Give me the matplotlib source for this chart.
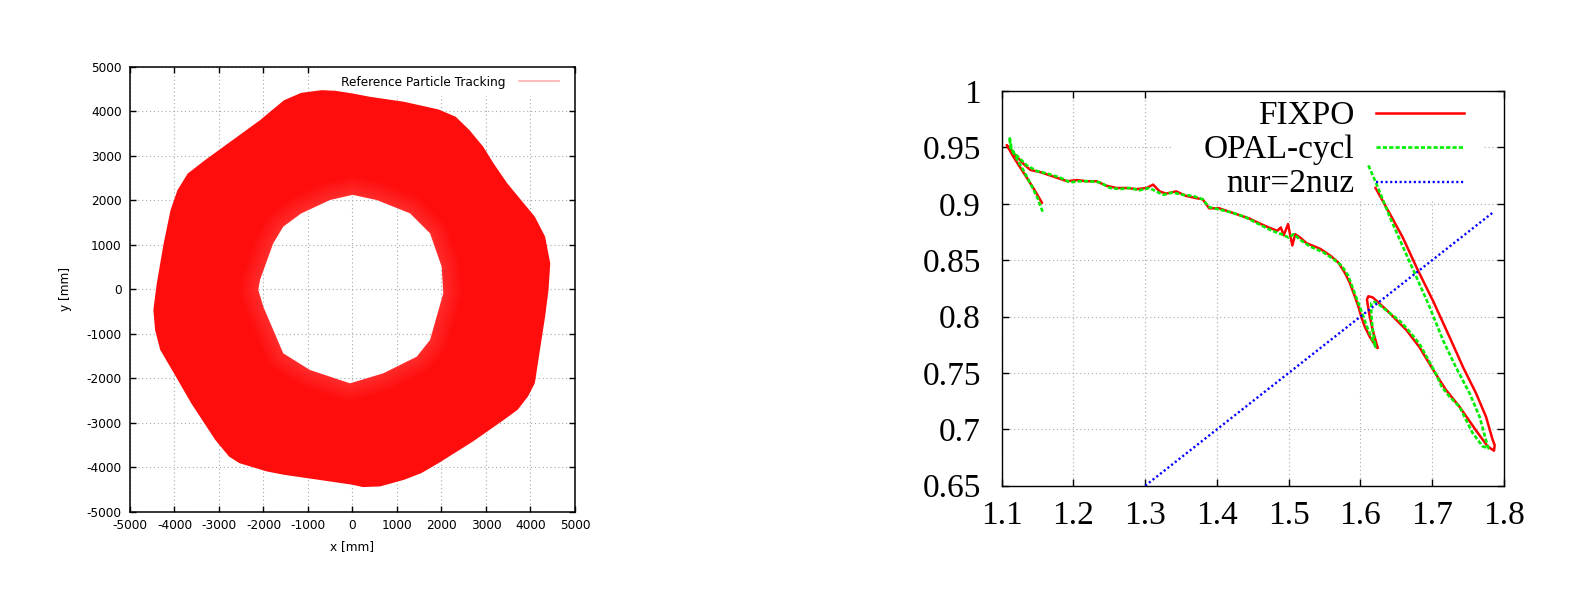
import matplotlib
matplotlib.use("Agg")
import matplotlib.pyplot as plt
from matplotlib.path import Path
from matplotlib.patches import PathPatch, Rectangle
import numpy as np

# left panel: outline of the tracked orbit band [mm]
outer_x = [-1541, -1154, -691, -382, 4, 390, 1162, 1934, 2320, 2629, 2938, 3170,
           3479, 3788, 4097, 4328, 4444, 4405, 4328, 4212, 4097, 3942, 3710, 3402,
           2707, 1934, 1548, 1162, 622, 236, 4, -768, -1541, -1927, -2544, -2776,
           -3085, -3625, -4012, -4320, -4436, -4475, -4398, -4243, -4089, -3934,
           -3703, -3317, -2699, -2081]
outer_y = [4245, 4412, 4473, 4458, 4398, 4324, 4211, 4039, 3875, 3575, 3201, 2827,
           2378, 2004, 1630, 1182, 580, -19, -617, -1365, -2113, -2412, -2711, -2936,
           -3422, -3908, -4133, -4282, -4432, -4447, -4395, -4282, -4170, -4095,
           -3908, -3759, -3385, -2562, -1889, -1365, -917, -468, 131, 1028, 1776,
           2225, 2599, 2898, 3347, 3796]
inner_x = [2040, 2004, 1742, 1292, 543, 0, -506, -1154, -1556, -1781, -2079, -2116,
           -2004, -1556, -955, -56, 692, 1443, 1742]
inner_y = [-92, 506, 1256, 1706, 2004, 2120, 2004, 1702, 1405, 1031, 207, -18,
           -393, -1441, -1816, -2115, -1890, -1517, -1142]

# right panel: tune diagram
fixpo_nur = [1.156, 1.145, 1.135, 1.126, 1.117, 1.107, 1.119, 1.131, 1.140, 1.154,
             1.168, 1.182, 1.191, 1.205, 1.218, 1.232, 1.246, 1.260, 1.274, 1.288,
             1.302, 1.311, 1.320, 1.329, 1.343, 1.357, 1.371, 1.380, 1.389, 1.403,
             1.417, 1.431, 1.445, 1.458, 1.472, 1.484, 1.489, 1.493, 1.499, 1.505,
             1.509, 1.516, 1.525, 1.544, 1.558, 1.569, 1.578, 1.585, 1.592, 1.597,
             1.601, 1.606, 1.613, 1.620, 1.624, 1.617, 1.612, 1.609, 1.611, 1.617,
             1.624, 1.636, 1.650, 1.664, 1.682, 1.701, 1.719, 1.738, 1.761, 1.777,
             1.786, 1.787, 1.784, 1.775, 1.761, 1.743, 1.724, 1.701, 1.680, 1.659,
             1.641, 1.621]
fixpo_nuz = [0.901, 0.913, 0.923, 0.932, 0.941, 0.952, 0.943, 0.935, 0.930, 0.928,
             0.925, 0.922, 0.920, 0.921, 0.920, 0.920, 0.916, 0.914, 0.914, 0.913,
             0.914, 0.917, 0.911, 0.909, 0.911, 0.907, 0.905, 0.904, 0.896, 0.896,
             0.893, 0.890, 0.887, 0.883, 0.879, 0.876, 0.879, 0.872, 0.882, 0.863,
             0.873, 0.870, 0.865, 0.860, 0.854, 0.848, 0.839, 0.830, 0.818, 0.809,
             0.800, 0.791, 0.782, 0.775, 0.772, 0.788, 0.803, 0.815, 0.818, 0.817,
             0.813, 0.806, 0.797, 0.788, 0.773, 0.753, 0.735, 0.720, 0.699, 0.685,
             0.681, 0.686, 0.691, 0.711, 0.732, 0.755, 0.782, 0.814, 0.841, 0.870,
             0.891, 0.914]
opal_nur = [1.157, 1.150, 1.140, 1.130, 1.120, 1.112, 1.111, 1.114, 1.119, 1.135,
            1.149, 1.168, 1.182, 1.195, 1.209, 1.223, 1.237, 1.251, 1.265, 1.278,
            1.292, 1.306, 1.315, 1.325, 1.338, 1.352, 1.366, 1.380, 1.389, 1.403,
            1.422, 1.440, 1.458, 1.477, 1.490, 1.500, 1.507, 1.516, 1.530, 1.548,
            1.562, 1.574, 1.583, 1.590, 1.597, 1.604, 1.609, 1.615, 1.621, 1.617,
            1.615, 1.615, 1.620, 1.627, 1.641, 1.655, 1.668, 1.682, 1.696, 1.706,
            1.713, 1.724, 1.738, 1.756, 1.770, 1.778, 1.775, 1.766, 1.752, 1.733,
            1.715, 1.696, 1.678, 1.659, 1.641, 1.622, 1.611]
opal_nuz = [0.893, 0.905, 0.918, 0.930, 0.941, 0.950, 0.959, 0.948, 0.944, 0.934,
            0.929, 0.926, 0.923, 0.919, 0.920, 0.920, 0.919, 0.914, 0.913, 0.914,
            0.912, 0.914, 0.911, 0.908, 0.910, 0.908, 0.907, 0.904, 0.897, 0.895,
            0.892, 0.888, 0.882, 0.876, 0.873, 0.870, 0.873, 0.868, 0.862, 0.857,
            0.851, 0.845, 0.836, 0.824, 0.812, 0.800, 0.791, 0.782, 0.773, 0.788,
            0.803, 0.812, 0.813, 0.810, 0.803, 0.796, 0.787, 0.776, 0.760, 0.748,
            0.738, 0.729, 0.720, 0.697, 0.685, 0.683, 0.690, 0.711, 0.732, 0.755,
            0.779, 0.809, 0.835, 0.862, 0.888, 0.918, 0.934]
res_nur = [1.3, 1.785]
res_nuz = [0.65, 0.8925]

plt.rcParams["axes.unicode_minus"] = False

fig = plt.figure(figsize=(15.84, 6.12), dpi=100)
ax1 = fig.add_axes([0.08207, 0.16389, 0.28093, 0.72712])
ax2 = fig.add_axes([0.63239, 0.20637, 0.31711, 0.64493])

grid_kw = dict(color="#a8a8a8", ls=(0, (1, 2.5)), lw=0.8)

# ---- left: reference particle tracking
sans = "DejaVu Sans"
fs1 = 8.7
ticks1 = np.arange(-5000, 5001, 1000)
ring_verts = ([(x, y) for x, y in zip(outer_x, outer_y)] + [(outer_x[0], outer_y[0])]
              + [(x, y) for x, y in zip(inner_x, inner_y)] + [(inner_x[0], inner_y[0])])
ring_codes = ([Path.MOVETO] + [Path.LINETO] * (len(outer_x) - 1) + [Path.CLOSEPOLY]
              + [Path.MOVETO] + [Path.LINETO] * (len(inner_x) - 1) + [Path.CLOSEPOLY])
ring = PathPatch(Path(ring_verts, ring_codes), facecolor="#ff0c0c", edgecolor="none",
                 zorder=2)
ax1.add_patch(ring)

# the turns near the inner edge are less dense -> slightly lighter red
hole_verts = [(x, y) for x, y in zip(inner_x, inner_y)] + [(inner_x[0], inner_y[0])]
hole_codes = [Path.MOVETO] + [Path.LINETO] * (len(inner_x) - 1) + [Path.CLOSEPOLY]
hole_path = Path(hole_verts, hole_codes)
n_fade = 8
for k in range(n_fade):
    t = k / (n_fade - 1)
    lw = 28 * (1 - t) + 3 * t
    g = int(14 + 28 * t)
    ax1.add_patch(PathPatch(hole_path, facecolor="none",
                            edgecolor=(1.0, g / 255, g / 255), lw=lw,
                            joinstyle="round", zorder=3))
# white centre on top, with its own grid
hole = PathPatch(hole_path, facecolor="white", edgecolor="none", zorder=3.5)
ax1.add_patch(hole)
for v in ticks1[1:-1]:
    for ln in (ax1.axvline(v, zorder=3.6, **grid_kw), ax1.axhline(v, zorder=3.6, **grid_kw)):
        ln.set_clip_path(hole)

ax1.set_xlim(-5000, 5000)
ax1.set_ylim(-5000, 5000)
ax1.set_xticks(ticks1)
ax1.set_yticks(ticks1)
ax1.set_axisbelow(True)
ax1.grid(True, **grid_kw)
ax1.tick_params(direction="in", top=True, right=True, length=4.5, width=1,
                labelsize=fs1)
ax1.tick_params(axis="x", pad=5.5)
ax1.tick_params(axis="y", pad=6)
for lab in ax1.get_xticklabels() + ax1.get_yticklabels():
    lab.set_fontfamily(sans)
for sp in ax1.spines.values():
    sp.set_linewidth(1.1)
    sp.set_zorder(6)
ax1.set_xlabel("x [mm]", fontsize=fs1, family=sans, va="center")
ax1.set_ylabel("y [mm]", fontsize=fs1, family=sans, va="center")
ax1.xaxis.set_label_coords(0.5, -0.079)
ax1.yaxis.set_label_coords(-0.144, 0.5)

# key
ax1.add_patch(Rectangle((0.44, 0.935), 0.555, 0.065, transform=ax1.transAxes,
                        facecolor="white", edgecolor="none", zorder=1.5))
ax1.text(0.8438, 0.9573, "Reference Particle Tracking", transform=ax1.transAxes,
         ha="right", va="baseline", fontsize=fs1, family=sans, zorder=7)
ax1.plot([0.8733, 0.964], [0.9688, 0.9688], transform=ax1.transAxes,
         color="#ffb0b0", lw=1.2, zorder=7)

# ---- right: tunes
serif = "Liberation Serif"
red_kw = dict(color="#ff0000", lw=1.8)
green_kw = dict(color="#00ee00", lw=1.9, ls=(0, (1.6, 0.8)))
blue_kw = dict(color="#0000ff", lw=1.7, ls=(0, (0.9, 1.1)))
ax2.plot(fixpo_nur, fixpo_nuz, zorder=3, **red_kw)
ax2.plot(opal_nur, opal_nuz, zorder=4, **green_kw)
ax2.plot(res_nur, res_nuz, zorder=5, **blue_kw)

ax2.set_xlim(1.1, 1.8)
ax2.set_ylim(0.65, 1.0)
xt = np.round(np.arange(1.1, 1.801, 0.1), 2)
yt = np.round(np.arange(0.65, 1.001, 0.05), 2)
ax2.set_xticks(xt)
ax2.set_yticks(yt)
ax2.set_xticklabels([f"{v:g}" for v in xt], family=serif, fontsize=24)
ax2.set_yticklabels([f"{v:g}" for v in yt], family=serif, fontsize=24)
ax2.set_axisbelow(True)
ax2.grid(True, **grid_kw)
ax2.tick_params(direction="in", top=True, right=True, length=5, width=1)
ax2.tick_params(axis="x", pad=11)
ax2.tick_params(axis="y", pad=15)
for sp in ax2.spines.values():
    sp.set_linewidth(1.0)
    sp.set_zorder(6)

# key (opaque, gnuplot style)
ax2.add_patch(Rectangle((0.337, 0.7213), 0.621, 0.2787, transform=ax2.transAxes,
                        facecolor="white", edgecolor="none", zorder=1.5))
keys = [("FIXPO", 0.9159, 0.9435, red_kw),
        ("OPAL-cycl", 0.8297, 0.8574, green_kw),
        ("nur=2nuz", 0.7430, 0.7702, blue_kw)]
for label, ybase, yline, style in keys:
    ax2.text(0.7014, ybase, label, transform=ax2.transAxes, ha="right", va="baseline",
             fontsize=24, family=serif, zorder=7)
    ax2.plot([0.7455, 0.9207], [yline, yline], transform=ax2.transAxes, zorder=7, **style)

fig.savefig("out.png", dpi=100)
